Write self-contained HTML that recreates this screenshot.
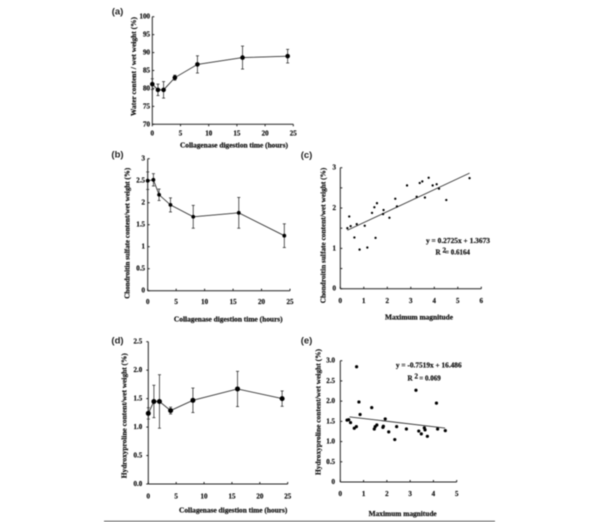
<!DOCTYPE html>
<html>
<head>
<meta charset="utf-8">
<title>Collagenase digestion charts</title>
<style>
html,body{margin:0;padding:0;background:#fff;}
svg{display:block;filter:blur(0.4px);}
text{font-family:"Liberation Serif",serif;font-weight:bold;fill:#111;font-size:7px;stroke:#111;stroke-width:0.2px;}
.panel-label{font-family:"Liberation Sans",sans-serif;font-size:9.5px;fill:#222;stroke:none;}
</style>
</head>
<body>
<svg id="chart" xmlns="http://www.w3.org/2000/svg" width="600" height="522" viewBox="0 0 600 522"></svg>
<script>
const hours = [0, 1, 2, 4, 8, 16, 24];

const waterValues = [81.2, 79.6, 79.6, 83, 86.7, 88.6, 89];
const waterErrors = [1.5, 1.6, 2.3, 0.7, 2.4, 3.2, 1.9];
const waterYTicks = ["70", "75", "80", "85", "90", "95", "100"];
const waterXTicks = ["0", "5", "10", "15", "20", "25"];

const chondroValues = [2.5, 2.52, 2.18, 1.95, 1.68, 1.77, 1.25];
const chondroErrors = [0.2, 0.14, 0.13, 0.16, 0.26, 0.35, 0.27];
const chondroYTicks = ["0", "0.5", "1", "1.5", "2", "2.5", "3"];
const chondroXTicks = ["0", "5", "10", "15", "20", "25"];

const hydroValues = [1.24, 1.45, 1.45, 1.29, 1.47, 1.67, 1.5];
const hydroErrors = [0.1, 0.285, 0.47, 0.06, 0.215, 0.31, 0.135];
const hydroYTicks = ["0.0", "0.5", "1.0", "1.5", "2.0", "2.5"];
const hydroXTicks = ["0", "5", "10", "15", "20", "25"];

const magnitudeC = [0.30,0.38,0.44,0.60,0.70,0.82,1.04,1.15,1.35,1.45,1.50,1.56,1.82,1.84,2.09,2.34,2.41,2.84,3.25,3.38,3.49,3.60,3.76,3.93,4.10,4.20,4.51,5.50];
const chondroScatter = [1.50,1.79,1.55,1.27,1.60,0.97,1.56,1.02,1.88,2.02,1.26,2.12,1.85,1.95,1.76,2.23,2.04,2.56,2.28,2.62,2.66,2.26,2.75,2.56,2.59,2.48,2.20,2.74];
const trendC = [[0.3, 1.449], [5.5, 2.866]];
const scatterCYTicks = ["0", "", "1", "", "2", "", "3"];
const scatterCXTicks = ["0", "1", "2", "3", "4", "5", "6"];

const magnitudeE = [0.29,0.36,0.44,0.60,0.69,0.70,0.80,0.85,1.35,1.46,1.50,1.57,1.83,1.85,1.93,2.08,2.42,2.34,2.84,3.25,3.37,3.48,3.61,3.64,3.74,4.13,4.18,4.51];
const hydroScatter = [1.53,1.54,1.47,1.33,1.37,2.85,1.98,1.67,1.84,1.31,1.37,1.41,1.35,1.38,1.56,1.24,1.37,1.05,1.31,2.27,1.26,1.19,1.34,1.29,1.13,1.95,1.31,1.27];
const trendE = [[0.4, 1.61], [4.5, 1.335]];
const scatterEYTicks = ["0", "0.5", "1.0", "1.5", "2.0", "2.5", "3.0"];
const scatterEXTicks = ["0", "1", "2", "3", "4", "5"];

const svg = document.getElementById('chart');
const NS = 'http://www.w3.org/2000/svg';

function make(tag, attrs, parent) {
  const el = document.createElementNS(NS, tag);
  for (const k in attrs) el.setAttribute(k, attrs[k]);
  (parent || svg).appendChild(el);
  return el;
}
function linear(d0, d1, r0, r1) {
  return v => r0 + (v - d0) * (r1 - r0) / (d1 - d0);
}
function label(str, x, y, name, opts) {
  const o = opts || {};
  const attrs = {x: x, y: y, 'text-anchor': o.anchor || 'middle', 'dominant-baseline': 'central'};
  if (o.len) { attrs.textLength = o.len; attrs.lengthAdjust = 'spacingAndGlyphs'; }
  if (o.rotate) attrs.transform = 'rotate(-90 ' + x + ' ' + y + ')';
  const t = make('text', attrs);
  t.textContent = str;
  
  
  return t;
}
function line(x1, y1, x2, y2, name, stroke, w) {
  const l = make('line', {x1: x1, y1: y1, x2: x2, y2: y2, stroke: stroke || '#222', 'stroke-width': w || 1});
  
  
  return l;
}
function axes(id, c) {
  const yVals = c.yTicks.map((t, i) => c.yMin + i * (c.yMax - c.yMin) / (c.yTicks.length - 1));
  const xVals = c.xTicks.map((t, i) => c.xMin + i * (c.xMax - c.xMin) / (c.xTicks.length - 1));
  line(c.sx(c.xMin), c.sy(c.yMin), c.sx(c.xMin), c.sy(c.yMax), id + '-y-axis');
  line(c.sx(c.xMin), c.sy(c.yMin), c.sx(c.xMax), c.sy(c.yMin), id + '-x-axis');
  yVals.forEach((v, i) => {
    line(c.sx(c.xMin), c.sy(v), c.sx(c.xMin) + c.yTickDir * 2, c.sy(v), id + '-y-tick');
    if (c.yTicks[i]) label(c.yTicks[i], c.yLabelX, c.sy(v), id + '-y-tick-label', {anchor: 'end'});
  });
  xVals.forEach((v, i) => {
    line(c.sx(v), c.sy(c.yMin), c.sx(v), c.sy(c.yMin) - c.xTickDir * 2, id + '-x-tick');
    label(c.xTicks[i], c.sx(v), c.xLabelY, id + '-x-tick-label');
  });
}
function series(id, c, values, errors, r) {
  const pts = hours.map((h, i) => c.sx(h) + ',' + c.sy(values[i])).join(' ');
  const pl = make('polyline', {points: pts, fill: 'none', stroke: '#333', 'stroke-width': 0.9});
  
  
  hours.forEach((h, i) => {
    const x = c.sx(h);
    const hi = c.sy(values[i] + errors[i]);
    const lo = c.sy(values[i] - errors[i]);
    line(x, hi, x, lo, id + '-error-bar', '#333', 0.8);
    line(x - 1.5, hi, x + 1.5, hi, id + '-error-cap', '#333', 0.8);
    line(x - 1.5, lo, x + 1.5, lo, id + '-error-cap', '#333', 0.8);
  });
  hours.forEach((h, i) => {
    const p = make('circle', {cx: c.sx(h), cy: c.sy(values[i]), r: r, fill: '#000'});
    
    
  });
}
function scatter(id, c, xs, ys, trend, r) {
  const tl = line(c.sx(trend[0][0]), c.sy(trend[0][1]), c.sx(trend[1][0]), c.sy(trend[1][1]), id + '-trend-line', '#333', 0.9);
  xs.forEach((x, i) => {
    const p = make('circle', {cx: c.sx(x), cy: c.sy(ys[i]), r: r, fill: '#000'});
    
    
  });
  return tl;
}

/* panel a */
const a = {xMin: 0, xMax: 25, yMin: 70, yMax: 100, xTicks: waterXTicks, yTicks: waterYTicks,
  sx: linear(0, 25, 152.3, 293.3), sy: linear(70, 100, 124.3, 16.7), yLabelX: 150, xLabelY: 133.5, yTickDir: 1, xTickDir: -1};
axes('water', a);
series('water', a, waterValues, waterErrors, 2.3);
label('(a)', 117.5, 12, 'panel-label-a').setAttribute('class', 'panel-label');
label('Water content / wet weight (%)', 134, 66.5, 'water-y-axis-title', {rotate: true, len: 99});
label('Collagenase digestion time (hours)', 234, 145.7, 'water-x-axis-title', {len: 108});

/* panel b */
const b = {xMin: 0, xMax: 25, yMin: 0, yMax: 3, xTicks: chondroXTicks, yTicks: chondroYTicks,
  sx: linear(0, 25, 147.7, 290), sy: linear(0, 3, 290.7, 158.7), yLabelX: 145, xLabelY: 302, yTickDir: 1, xTickDir: 1};
axes('chondroitin-time', b);
series('chondroitin-time', b, chondroValues, chondroErrors, 1.9);
label('(b)', 117.5, 155, 'panel-label-b').setAttribute('class', 'panel-label');
label('Chondroitin sulfate content/wet weight (%)', 127.3, 233.3, 'chondroitin-time-y-axis-title', {rotate: true, len: 131});
label('Collagenase digestion time (hours)', 228.3, 319.7, 'chondroitin-time-x-axis-title', {len: 108.7});

/* panel c */
const cc = {xMin: 0, xMax: 6, yMin: 0, yMax: 3, xTicks: scatterCXTicks, yTicks: scatterCYTicks,
  sx: linear(0, 6, 340.3, 481.3), sy: linear(0, 3, 288.7, 167.7), yLabelX: 336, xLabelY: 301, yTickDir: 1, xTickDir: 1};
axes('chondroitin-magnitude', cc);
scatter('chondroitin-magnitude', cc, magnitudeC, chondroScatter, trendC, 1.15);
label('(c)', 306.5, 155.5, 'panel-label-c').setAttribute('class', 'panel-label');
label('Chondroitin sulfate content/wet weight (%)', 323.3, 235.5, 'chondroitin-magnitude-y-axis-title', {rotate: true, len: 135.6});
label('Maximum magnitude', 419, 317.7, 'chondroitin-magnitude-x-axis-title', {len: 68});
label('y = 0.2725x + 1.3673', 458, 241, 'chondroitin-equation', {len: 64});
label('R', 438, 252.5, 'chondroitin-r-squared-label');
label('2', 444.3, 250.5, 'chondroitin-r-squared-exponent');
label('= 0.6164', 457.5, 252.5, 'chondroitin-r-squared-value');

/* panel d */
const d = {xMin: 0, xMax: 25, yMin: 0, yMax: 2.5, xTicks: hydroXTicks, yTicks: hydroYTicks,
  sx: linear(0, 25, 148.3, 287.7), sy: linear(0, 2.5, 484, 341.7), yLabelX: 142.3, xLabelY: 496.7, yTickDir: -1, xTickDir: 1};
axes('hydroxyproline-time', d);
series('hydroxyproline-time', d, hydroValues, hydroErrors, 2.5);
label('(d)', 117.5, 341, 'panel-label-d').setAttribute('class', 'panel-label');
label('Hydroxyproline content/wet weight (%)', 124.3, 415.7, 'hydroxyproline-time-y-axis-title', {rotate: true, len: 125});
label('Collagenase digestion time (hours)', 233.2, 510.7, 'hydroxyproline-time-x-axis-title', {len: 108.3});

/* panel e */
const e = {xMin: 0, xMax: 5, yMin: 0, yMax: 3, xTicks: scatterEXTicks, yTicks: scatterEYTicks,
  sx: linear(0, 5, 340.3, 456.7), sy: linear(0, 3, 482, 360.7), yLabelX: 335, xLabelY: 494, yTickDir: 1, xTickDir: 1};
axes('hydroxyproline-magnitude', e);
scatter('hydroxyproline-magnitude', e, magnitudeE, hydroScatter, trendE, 1.6);
label('(e)', 306.5, 341, 'panel-label-e').setAttribute('class', 'panel-label');
label('Hydroxyproline content/wet weight (%)', 318.3, 412, 'hydroxyproline-magnitude-y-axis-title', {rotate: true, len: 126});
label('Maximum magnitude', 402.7, 514, 'hydroxyproline-magnitude-x-axis-title', {len: 68});
label('y = -0.7519x + 16.486', 428.8, 365.7, 'hydroxyproline-equation', {len: 65.7});
label('R', 410, 378.3, 'hydroxyproline-r-squared-label');
label('2', 416.3, 376.3, 'hydroxyproline-r-squared-exponent');
label('= 0.069', 430, 378.3, 'hydroxyproline-r-squared-value');

/* page rule */
line(104, 521.3, 495, 521.3, 'bottom-rule', '#555', 1);
</script>
</body>
</html>
